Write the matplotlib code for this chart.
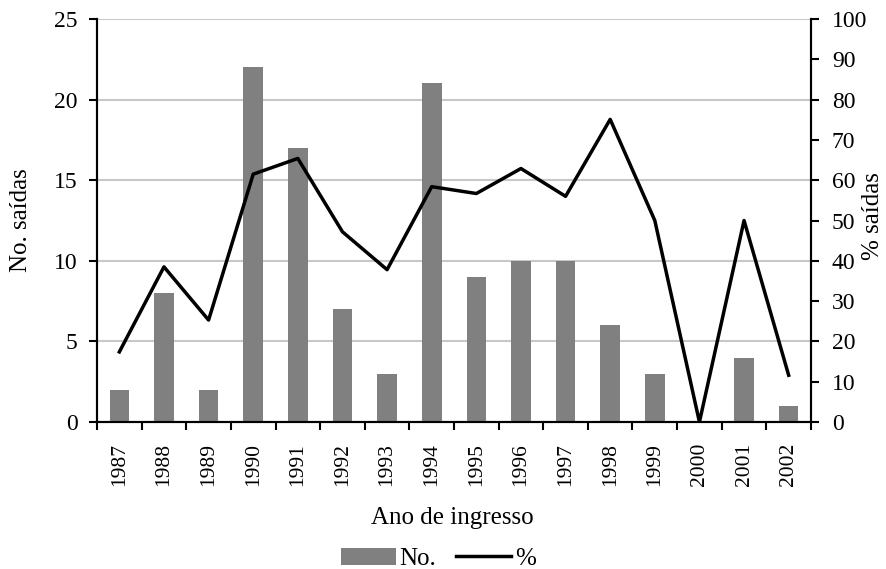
import matplotlib
matplotlib.use("Agg")
import matplotlib.pyplot as plt
from matplotlib.patches import Patch
from matplotlib.lines import Line2D

years = ["1987", "1988", "1989", "1990", "1991", "1992", "1993", "1994",
         "1995", "1996", "1997", "1998", "1999", "2000", "2001", "2002"]
saidas_no = [2, 8, 2, 22, 17, 7, 3, 21, 9, 10, 10, 6, 3, 0, 4, 1]
saidas_pct = [17.4, 38.5, 25.3, 61.5, 65.4, 47.2, 37.8, 58.4, 56.7, 62.9,
              56.0, 75.1, 50.0, 0.0, 50.0, 11.6]

plt.rcParams['font.family'] = ['Liberation Serif', 'DejaVu Serif']
fs_y = 17
fs_x = 15.5
fl = 18

fig = plt.figure(figsize=(8.87, 5.69), dpi=100)
ax = fig.add_axes([0.1094, 0.2583, 0.8049, 0.7083])
ax2 = ax.twinx()

x = list(range(len(years)))
ax.bar(x, saidas_no, width=0.44, color='#808080', zorder=2)
ax.set_ylim(0, 25)
ax.set_yticks(range(0, 26, 5))
ax.set_xlim(-0.5, len(years) - 0.5)
ax.yaxis.grid(True, color='#c8c8c8', linewidth=1.5, zorder=0)
ax.set_axisbelow(True)
ax.set_xticks(x)
ax.set_xticklabels(years, rotation=90, fontsize=fs_x)
ax.tick_params(axis='x', which='major', length=0, pad=15)
ax.set_xticks([i - 0.5 for i in range(len(years) + 1)], minor=True)
ax.tick_params(axis='x', which='minor', length=6, width=1.5, direction='out')
ax.tick_params(axis='y', length=6, width=1.5, direction='out', labelsize=fs_y, pad=8)
ax.set_ylabel('No. saídas', fontsize=fl)
ax.yaxis.set_label_coords(-0.106, 0.5)
ax.yaxis.label.set_va('center')
ax.set_xlabel('Ano de ingresso', fontsize=fl)
ax.xaxis.set_label_coords(0.497, -0.238)
ax.xaxis.label.set_va('center')

ax2.plot(x, saidas_pct, color='black', linewidth=2.5, zorder=3)
ax2.set_ylim(0, 100)
ax2.set_yticks(range(0, 101, 10))
ax2.tick_params(axis='y', length=6, width=1.5, direction='out', labelsize=fs_y, pad=9)
ax2.set_ylabel('% saídas', fontsize=fl, rotation=90)
ax2.yaxis.set_label_coords(1.087, 0.51)
ax2.yaxis.label.set_va('center')

for a in (ax, ax2):
    a.spines['top'].set_visible(False)
    for s in ('left', 'right', 'bottom'):
        a.spines[s].set_linewidth(1.5)

handles = [Patch(facecolor='#808080', edgecolor='none'),
           Line2D([0], [0], color='black', linewidth=2.5)]
fig.legend(handles, ['No.', '%'], loc='center', ncol=2, frameon=False,
           fontsize=fl, bbox_to_anchor=(0.494, 0.018), handlelength=2.2,
           columnspacing=0.8, handletextpad=0.15, borderpad=0)

fig.savefig('out.png', dpi=100)
